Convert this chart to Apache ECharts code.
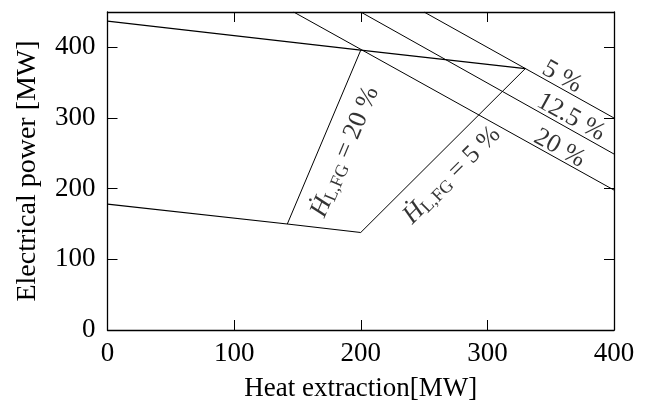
<!DOCTYPE html>
<html>
<head>
<meta charset="utf-8">
<script src="https://cdn.jsdelivr.net/npm/echarts@6/dist/echarts.min.js"></script>
<style>html,body{margin:0;padding:0;background:#fff}#c{width:648px;height:401px}</style>
</head>
<body>
<div id="c"></div>
<script>
// Data
const xTicks = [0, 100, 200, 300, 400];
const yTicks = [0, 100, 200, 300, 400];
const upperX = [0, 200, 330];
const upperY = [437, 396, 370];
const lowerX = [0, 142, 200];
const lowerY = [178, 150, 138];
const h20X = [142, 200];
const h20Y = [150, 396];
const h5X = [200, 330];
const h5Y = [138, 370];
const iso5X = [250, 400];
const iso5Y = [450, 300];
const iso125X = [200, 400];
const iso125Y = [450, 249];
const iso20X = [147, 400];
const iso20Y = [450, 198];
const isoLabels = ['5 %', '12.5 %', '20 %'];
const isoLabelX = [359, 366, 357];
const isoLabelY = [358, 301, 257];
const hLabels = ['20 %', '5 %'];
const hLabelX = [187.6, 272];
const hLabelY = [252, 219];

const FONT = 'Liberation Serif';
const FS = 26;
const zip = (xs, ys) => xs.map((x, i) => [x, ys[i]]);
const lineSeries = (xs, ys, w) => ({
  type: 'line', data: zip(xs, ys), symbol: 'none', clip: true, silent: true,
  lineStyle: { color: '#000', width: w }, animation: false
});

const chart = echarts.init(document.getElementById('c'), null, { renderer: 'canvas' });
const axisCommon = {
  type: 'value', splitLine: { show: false },
  axisLine: { show: true, onZero: false, lineStyle: { color: '#000', width: 1.3 } },
  axisTick: { show: true, inside: true, length: 10, lineStyle: { color: '#000', width: 1 } }
};
chart.setOption({
  animation: false,
  backgroundColor: '#fff',
  grid: { left: 107.5, right: 34, top: 12, bottom: 71, containLabel: false, outerBoundsMode: 'none' },
  xAxis: [
    Object.assign({}, axisCommon, {
      min: xTicks[0], max: xTicks[xTicks.length - 1], interval: 100, position: 'bottom',
      name: 'Heat extraction[MW]', nameLocation: 'middle', nameGap: 45,
      nameTextStyle: { fontFamily: FONT, fontSize: 27, color: '#000' },
      axisLabel: { fontFamily: FONT, fontSize: 27, color: '#000', margin: 10 }
    }),
    Object.assign({}, axisCommon, {
      min: xTicks[0], max: xTicks[xTicks.length - 1], interval: 100, position: 'top',
      axisLabel: { show: false }
    })
  ],
  yAxis: [
    Object.assign({}, axisCommon, {
      min: 0, max: 450, interval: 100, position: 'left',
      name: 'Electrical power [MW]', nameLocation: 'middle', nameGap: 66,
      nameTextStyle: { fontFamily: FONT, fontSize: 28, color: '#000' },
      axisLabel: { fontFamily: FONT, fontSize: 27, color: '#000', margin: 12,
        formatter: v => (yTicks.indexOf(v) >= 0 ? String(v) : '') }
    }),
    Object.assign({}, axisCommon, {
      min: 0, max: 450, interval: 100, position: 'right',
      axisLabel: { show: false }
    })
  ],
  series: [
    lineSeries(upperX, upperY, 1.2),
    lineSeries(lowerX, lowerY, 1.2),
    lineSeries(h20X, h20Y, 1),
    lineSeries(h5X, h5Y, 1),
    lineSeries(iso5X, iso5Y, 1),
    lineSeries(iso125X, iso125Y, 1),
    lineSeries(iso20X, iso20Y, 1),
    {
      type: 'scatter', symbolSize: 0, silent: true,
      data: isoLabels.map((t, i) => ({ value: [isoLabelX[i], isoLabelY[i]], name: t })),
      label: { show: true, position: 'inside', rotate: -29, formatter: p => p.name,
        fontFamily: FONT, fontSize: FS, color: '#000' }
    },
    {
      type: 'scatter', symbolSize: 0, silent: true,
      data: hLabels.map((t, i) => ({ value: [hLabelX[i], hLabelY[i]], name: t,
        label: { rotate: i === 0 ? 67 : 45 } })),
      label: { show: true, position: 'inside',
        formatter: p => '{h|\u1E22}{s|L,FG}{n| = ' + p.name + '}',
        rich: {
          h: { fontFamily: FONT, fontSize: FS, fontStyle: 'italic', color: '#000' },
          s: { fontFamily: FONT, fontSize: 18, color: '#000', padding: [10, 0, 0, 0] },
          n: { fontFamily: FONT, fontSize: FS, color: '#000' }
        } }
    }
  ]
});
</script>
</body>
</html>
